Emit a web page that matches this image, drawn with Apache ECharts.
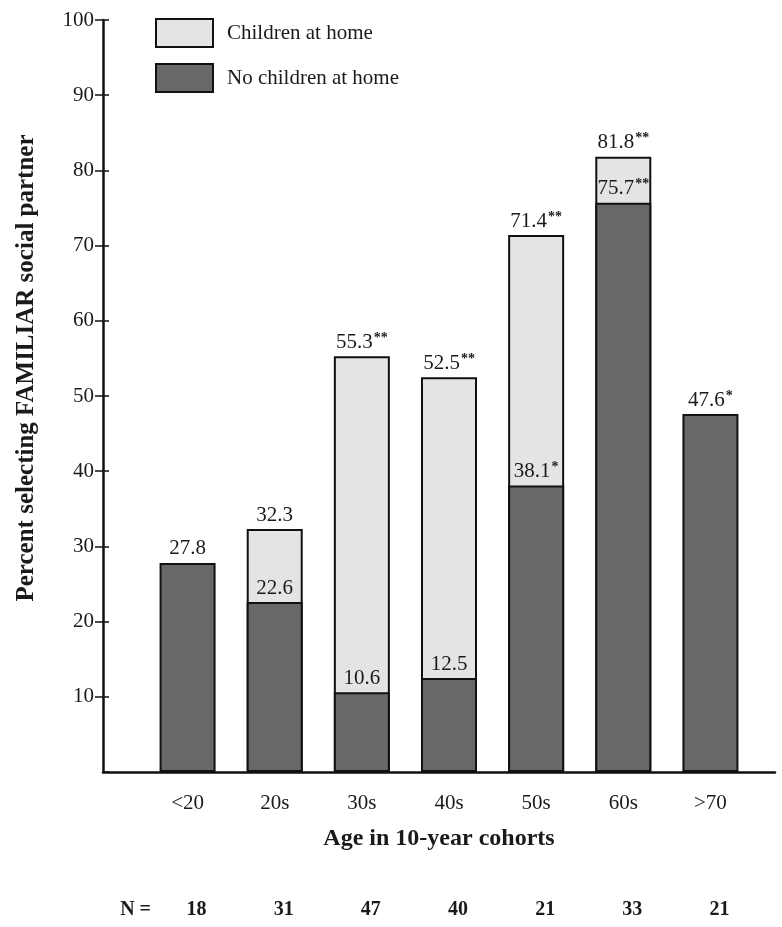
<!DOCTYPE html>
<html><head><meta charset="utf-8">
<script src="https://cdn.jsdelivr.net/npm/echarts@6/dist/echarts.min.js"></script>
<style>html,body{margin:0;padding:0;background:#fff}#c{width:782px;height:927px}</style>
</head><body><div id="c"></div>
<script>
const categories = ['<20', '20s', '30s', '40s', '50s', '60s', '>70'];
const childrenVals = [null, 32.3, 55.3, 52.5, 71.4, 81.8, null];
const noChildrenVals = [27.8, 22.6, 10.6, 12.5, 38.1, 75.7, 47.6];
const childrenStars = ['', '', '**', '**', '**', '**', ''];
const noChildrenStars = ['', '', '', '', '*', '**', '*'];
const nCounts = ['18', '31', '47', '40', '21', '33', '21'];
const yTicks = [0, 10, 20, 30, 40, 50, 60, 70, 80, 90, 100];

const SERIF = '"Liberation Serif", "DejaVu Serif", serif';
const TXT = '#1a1a1a';

function mkLabel(stars) {
  return {
    show: true, position: 'top', distance: 3,
    formatter: p => '{v|' + p.value + '}' + (stars[p.dataIndex] ? '{s|' + stars[p.dataIndex] + '}' : ''),
    rich: {
      v: { fontFamily: SERIF, fontSize: 21, color: TXT, lineHeight: 22 },
      s: { fontFamily: SERIF, fontSize: 14, fontWeight: 'bold', color: TXT, lineHeight: 22, verticalAlign: 'top', padding: [0, 0, 10, 1] }
    }
  };
}

const chart = echarts.init(document.getElementById('c'));
chart.setOption({
  backgroundColor: '#fff',
  animation: false,
  legend: {
    orient: 'vertical', left: 150, top: 13, itemWidth: 57, itemHeight: 28, itemGap: 15,
    icon: 'rect',
    textStyle: { fontFamily: SERIF, fontSize: 21, color: TXT, padding: [0, 0, 0, 9] },
    data: ['Children at home', 'No children at home']
  },
  grid: [
    { left: 144, right: 28, top: 20, bottom: 155 },
    { left: 103, right: 7, top: 20, bottom: 155 }
  ],
  xAxis: [
    {
      type: 'category', gridIndex: 0, data: categories,
      axisLine: { show: false }, axisTick: { show: false },
      axisLabel: { margin: 21, fontFamily: SERIF, fontSize: 21, color: TXT },
      name: 'Age in 10-year cohorts', nameLocation: 'middle', nameGap: 55,
      nameTextStyle: { fontFamily: SERIF, fontSize: 24, fontWeight: 'bold', color: TXT, padding: [0, 20, 0, 0] }
    },
    {
      type: 'category', gridIndex: 0, data: nCounts, position: 'bottom', offset: 138,
      axisLine: { show: false }, axisTick: { show: false },
      axisLabel: { margin: 0, verticalAlign: 'middle', fontFamily: SERIF, fontSize: 20, fontWeight: 'bold', color: TXT, padding: [0, 0, 0, 18] },
      name: 'N =', nameLocation: 'start', nameGap: -7,
      nameTextStyle: { fontFamily: SERIF, fontSize: 20, fontWeight: 'bold', color: TXT, verticalAlign: 'middle' }
    },
    {
      type: 'value', gridIndex: 1, min: 0, max: 1,
      axisLine: { show: true, onZero: false, lineStyle: { color: '#111', width: 2.5 } },
      axisTick: { show: false }, axisLabel: { show: false }, splitLine: { show: false }
    }
  ],
  yAxis: [
    {
      type: 'value', gridIndex: 1, min: yTicks[0], max: yTicks[yTicks.length - 1], interval: 10,
      axisLine: { show: true, lineStyle: { color: '#111', width: 2.5 } },
      axisTick: { show: true, length: 8, lineStyle: { color: '#111', width: 1.5 } },
      axisLabel: { showMinLabel: false, margin: 9, fontFamily: SERIF, fontSize: 21, color: TXT },
      splitLine: { show: false },
      name: 'Percent selecting FAMILIAR social partner', nameLocation: 'middle', nameGap: 64,
      nameTextStyle: { fontFamily: SERIF, fontSize: 25, fontWeight: 'bold', color: TXT, padding: [0, 0, 0, 56] }
    },
    {
      type: 'value', gridIndex: 1, min: 0, max: 100, interval: 10, position: 'left',
      axisLine: { show: false },
      axisTick: { show: true, inside: true, length: 6, lineStyle: { color: '#111', width: 1.5 } },
      axisLabel: { show: false }, splitLine: { show: false }
    },
    {
      type: 'value', gridIndex: 0, min: 0, max: 100, show: false
    }
  ],
  series: [
    {
      name: 'Children at home', type: 'bar', xAxisIndex: 0, yAxisIndex: 2,
      data: childrenVals, barWidth: 56, barGap: '-100%', z: 2,
      itemStyle: { color: '#e4e4e4', borderColor: '#111', borderWidth: 2 },
      label: mkLabel(childrenStars)
    },
    {
      name: 'No children at home', type: 'bar', xAxisIndex: 0, yAxisIndex: 2,
      data: noChildrenVals, barWidth: 56, barGap: '-100%', z: 3,
      itemStyle: { color: '#686868', borderColor: '#111', borderWidth: 2 },
      label: mkLabel(noChildrenStars)
    }
  ]
});
</script></body></html>
